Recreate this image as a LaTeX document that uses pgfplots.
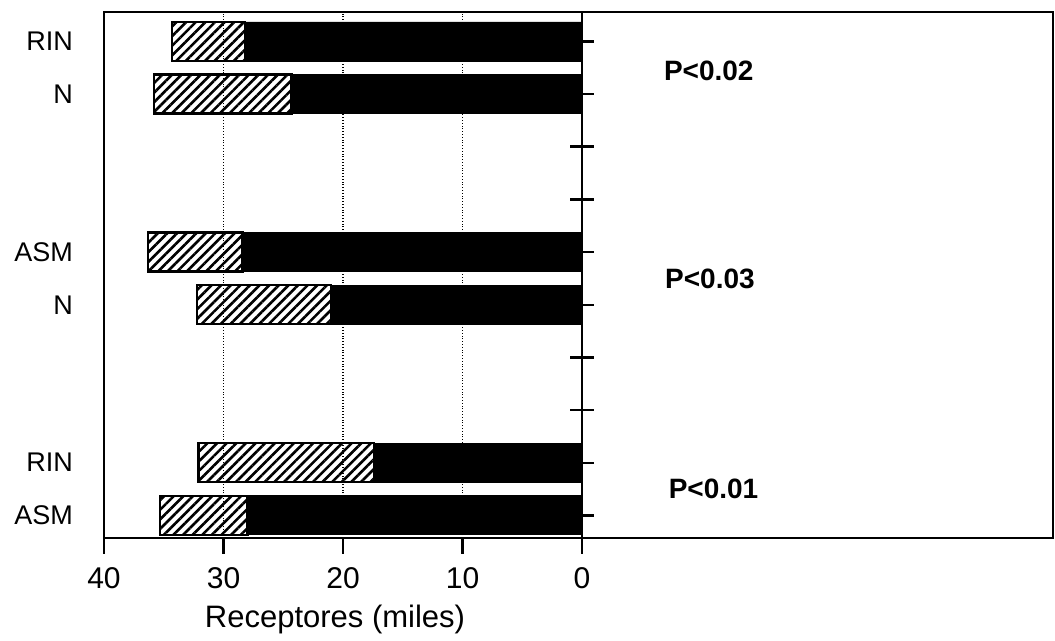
\documentclass[border=0pt]{standalone}
\usepackage{fontspec}
\setmainfont{Liberation Sans}
\usepackage{pgfplots}
\pgfplotsset{compat=1.18}
\usetikzlibrary{patterns.meta}

\begin{document}
\begin{tikzpicture}
\path[use as bounding box] (-52pt,-51.5pt) rectangle (475.5pt,269pt);
\begin{axis}[
  scale only axis, width=474.5pt, height=263pt,
  at={(0,0)}, anchor=south west,
  xbar stacked, bar width=0.74,
  x dir=reverse,
  xmin=-39.4, xmax=40, ymin=-0.43, ymax=9.56,
  axis line style={line width=1.3pt},
  xtick={0,10,20,30,40}, xtick pos=bottom, ytick pos=left,
  tick align=outside, major tick length=8pt,
  every tick/.style={black,line width=1.3pt},
  /pgf/number format/assume math mode=true,
  x tick label style={font=\fontsize{15}{17}\selectfont, yshift=-3pt},
  ytick={0,1,4,5,8,9}, yticklabels={ASM,RIN,N,ASM,N,RIN},
  y tick style={draw=none},
  y tick label style={font=\fontsize{13.5}{15}\selectfont, xshift=-4pt},
  xmajorgrids=true,
  major grid style={densely dotted, black, line width=0.8pt},
  xlabel={Receptores (miles)},
  xlabel style={font=\fontsize{15.5}{18}\selectfont, xshift=-121.75pt, yshift=-1.5pt},
]
\addplot[fill=black, draw=black]
  coordinates {(28.2,9) (24.3,8) (28.4,5) (21.0,4) (17.4,1) (28.0,0)};
\addplot[draw=black, line width=1.2pt,
  pattern={Lines[angle=45,distance=3.4pt,line width=1.3pt]}, pattern color=black]
  coordinates {(6.1,9) (11.5,8) (7.9,5) (11.2,4) (14.7,1) (7.3,0)};

\draw[line width=1.3pt] (axis cs:0,-0.43) -- (axis cs:0,9.56);
\pgfplotsinvokeforeach{0,1,4,5,8,9}{
  \draw[line width=1.2pt] (axis cs:0,#1) -- ([xshift=6pt]axis cs:0,#1);
}
\pgfplotsinvokeforeach{2,3,6,7}{
  \draw[line width=1.4pt] ([xshift=-6pt]axis cs:0,#1) -- ([xshift=6pt]axis cs:0,#1);
}
\node[font=\bfseries\fontsize{14}{16}\selectfont] at (axis cs:-10.6,8.45) {P<0.02};
\node[font=\bfseries\fontsize{14}{16}\selectfont] at (axis cs:-10.7,4.5) {P<0.03};
\node[font=\bfseries\fontsize{14}{16}\selectfont] at (axis cs:-11.0,0.5) {P<0.01};
\end{axis}
\end{tikzpicture}
\end{document}
